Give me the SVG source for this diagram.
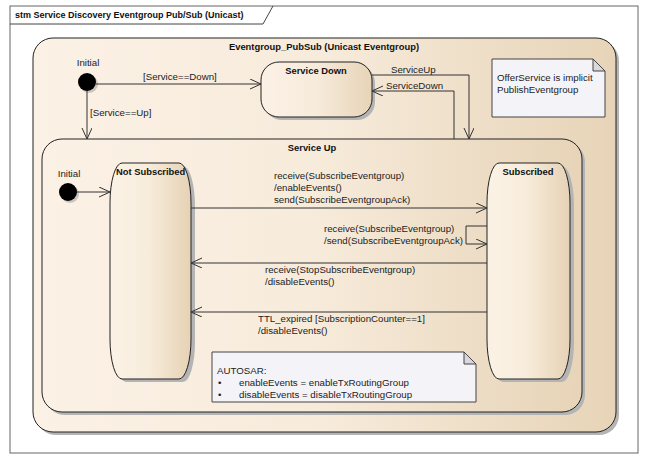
<svg xmlns="http://www.w3.org/2000/svg" width="651" height="463" viewBox="0 0 651 463">
  <defs>
    <linearGradient id="stateFill" x1="0" y1="0" x2="1" y2="0">
      <stop offset="0" stop-color="#FBF1E5"/>
      <stop offset="0.5" stop-color="#F7EBDB"/>
      <stop offset="1" stop-color="#E7D4B8"/>
    </linearGradient>
    <linearGradient id="innerFill" x1="0" y1="0" x2="1" y2="0">
      <stop offset="0" stop-color="#FBF2E6"/>
      <stop offset="0.45" stop-color="#F8EDDC"/>
      <stop offset="1" stop-color="#E6D2B5"/>
    </linearGradient>
    <marker id="openArrow" markerWidth="12" markerHeight="12" refX="11" refY="5" orient="auto" markerUnits="userSpaceOnUse">
      <path d="M0,0 L11,5 L0,10" fill="none" stroke="#333" stroke-width="1"/>
    </marker>
  </defs>
  <style>
    text { font-family: "Liberation Sans", Arial, sans-serif; font-size: 9.7px; fill: #222; }
    .bold { font-weight: bold; font-size: 9.4px; fill: #111; }
    .title { font-weight: bold; font-size: 9px; fill: #111; }
    .state { stroke: #222; stroke-width: 1; }
    .shadow { fill: #B4B4B4; }
    .edge { fill: none; stroke: #333; stroke-width: 1; }
    .note { fill: #F4F3F8; stroke: #444; stroke-width: 1; }
    .fold { fill: #D8D8DE; stroke: #444; stroke-width: 1; }
    .initial { fill: #000; }
  </style>

  <rect width="651" height="463" fill="#FFFFFF"/>

  <!-- diagram frame -->
  <g id="frame">
    <rect x="10" y="6" width="628" height="447" fill="#FFFFFF" stroke="#666" stroke-width="1"/>
    <path d="M10,24 L263,24 L273,6" fill="none" stroke="#444" stroke-width="1"/>
    <text class="title" x="15" y="18">stm Service Discovery Eventgroup Pub/Sub (Unicast)</text>
  </g>

  <!-- composite state: Eventgroup_PubSub -->
  <g id="eventgroup-pubsub">
    <rect class="shadow" x="36" y="41" width="583" height="394" rx="20"/>
    <rect class="state" x="33" y="38" width="583" height="394" rx="20" fill="url(#stateFill)"/>
    <text class="bold" x="324" y="50" text-anchor="middle">Eventgroup_PubSub (Unicast Eventgroup)</text>
  </g>

  <g id="initial-outer">
    <text x="88" y="66" text-anchor="middle">Initial</text>
    <circle cx="89" cy="84" r="9" fill="#999" opacity="0.5"/>
    <circle class="initial" cx="87" cy="82" r="9"/>
  </g>

  <g id="service-down">
    <rect class="shadow" x="264" y="65" width="111" height="55" rx="18"/>
    <rect class="state" x="261" y="62" width="111" height="55" rx="18" fill="url(#stateFill)"/>
    <text class="bold" x="316" y="74" text-anchor="middle">Service Down</text>
  </g>

  <g id="note-offer">
    <path class="note" d="M492,59 L593,59 L605,71 L605,117 L492,117 Z"/>
    <path class="fold" d="M593,59 L593,71 L605,71 Z"/>
    <text x="497" y="81">OfferService is implicit</text>
    <text x="497" y="93">PublishEventgroup</text>
  </g>

  <!-- composite state: Service Up -->
  <g id="service-up">
    <rect class="shadow" x="45" y="142" width="540" height="273" rx="20"/>
    <rect class="state" x="42" y="139" width="540" height="273" rx="20" fill="url(#stateFill)"/>
    <text class="bold" x="312" y="151" text-anchor="middle">Service Up</text>
  </g>

  <g id="initial-inner">
    <text x="69" y="177" text-anchor="middle">Initial</text>
    <circle cx="70" cy="194" r="9" fill="#999" opacity="0.5"/>
    <circle class="initial" cx="68" cy="192" r="9"/>
  </g>

  <g id="not-subscribed">
    <rect class="shadow" x="114" y="166" width="81" height="216" rx="12" ry="40"/>
    <rect class="state" x="110" y="163" width="81" height="216" rx="12" ry="40" fill="url(#innerFill)"/>
    <text class="bold" x="116" y="175">Not Subscribed</text>
  </g>

  <g id="subscribed">
    <rect class="shadow" x="491" y="166" width="83" height="216" rx="12" ry="40"/>
    <rect class="state" x="487" y="163" width="83" height="216" rx="12" ry="40" fill="url(#innerFill)"/>
    <text class="bold" x="528" y="175" text-anchor="middle">Subscribed</text>
  </g>

  <g id="note-autosar">
    <path class="note" d="M212,352 L464,352 L476,364 L476,402 L212,402 Z"/>
    <path class="fold" d="M464,352 L464,364 L476,364 Z"/>
    <text x="217" y="374">AUTOSAR:</text>
    <text x="218" y="386">•</text>
    <text x="239" y="386">enableEvents = enableTxRoutingGroup</text>
    <text x="218" y="398">•</text>
    <text x="239" y="398">disableEvents = disableTxRoutingGroup</text>
  </g>

  <!-- transitions -->
  <g id="connectors">
    <path class="edge" d="M96,84 L261,84" marker-end="url(#openArrow)"/>
    <text x="143" y="80">[Service==Down]</text>

    <path class="edge" d="M87,91 L87,139" marker-end="url(#openArrow)"/>
    <text x="90" y="116">[Service==Up]</text>

    <path class="edge" d="M372,75 L469,75 L469,139" marker-end="url(#openArrow)"/>
    <text x="391" y="73">ServiceUp</text>

    <path class="edge" d="M454,139 L454,91 L372,91" marker-end="url(#openArrow)"/>
    <text x="386" y="89">ServiceDown</text>

    <path class="edge" d="M77,192 L110,192" marker-end="url(#openArrow)"/>

    <path class="edge" d="M191,208 L487,208" marker-end="url(#openArrow)"/>
    <text x="274" y="179">receive(SubscribeEventgroup)</text>
    <text x="274" y="191">/enableEvents()</text>
    <text x="274" y="203">send(SubscribeEventgroupAck)</text>

    <path class="edge" d="M487,226 L466,226 L466,244 L487,244" marker-end="url(#openArrow)"/>
    <text x="324" y="232">receive(SubscribeEventgroup)</text>
    <text x="324" y="244" textLength="139">/send(SubscribeEventgroupAck)</text>

    <path class="edge" d="M487,263 L191,263" marker-end="url(#openArrow)"/>
    <text x="265" y="273">receive(StopSubscribeEventgroup)</text>
    <text x="265" y="285">/disableEvents()</text>

    <path class="edge" d="M487,312 L191,312" marker-end="url(#openArrow)"/>
    <text x="258" y="322">TTL_expired [SubscriptionCounter==1]</text>
    <text x="258" y="334">/disableEvents()</text>
  </g>
</svg>
